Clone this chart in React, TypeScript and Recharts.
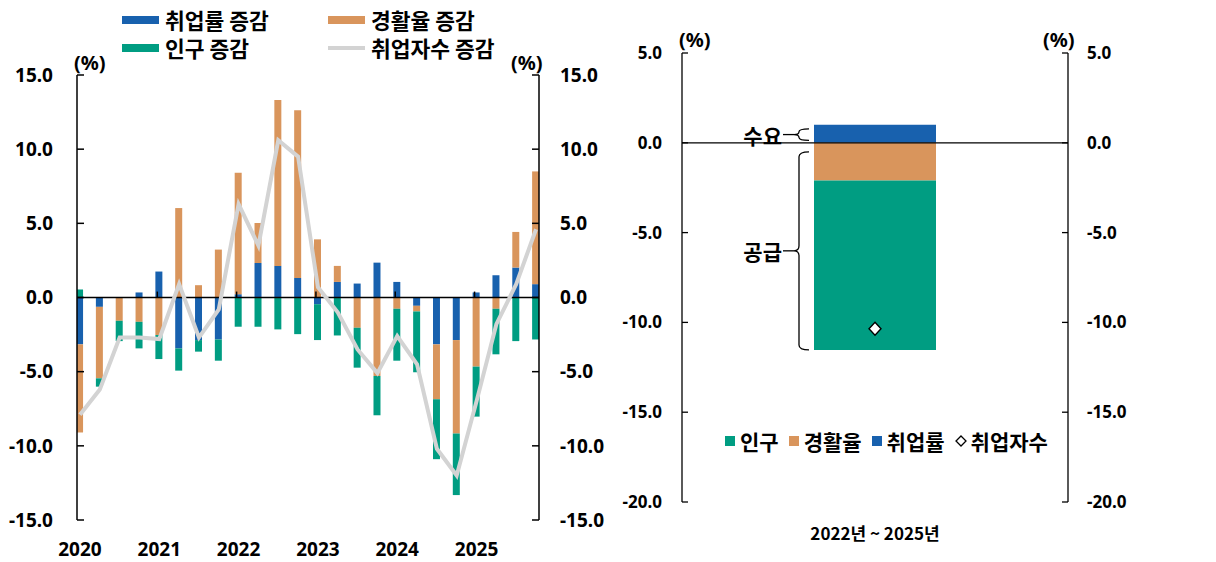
import React from 'react'
import {
  ComposedChart, Bar, Line, XAxis, YAxis, ReferenceLine, ReferenceArea,
} from 'recharts'

// left panel: quarterly contributions (%p), 2020Q1 ~ 2025Q4
const quarters = [
  '2020Q1', '2020Q2', '2020Q3', '2020Q4', '2021Q1', '2021Q2', '2021Q3', '2021Q4',
  '2022Q1', '2022Q2', '2022Q3', '2022Q4', '2023Q1', '2023Q2', '2023Q3', '2023Q4',
  '2024Q1', '2024Q2', '2024Q3', '2024Q4', '2025Q1', '2025Q2', '2025Q3', '2025Q4',
]
const yearLabels = ['2020', '2021', '2022', '2023', '2024', '2025']
const empRate = [
  -3.16, -0.63, 0, 0.34, 1.75, -3.43, -2.87, -2.83,
  0.22, 2.33, 2.13, 1.32, -0.45, 1.05, 0.94, 2.35,
  1.05, -0.56, -3.16, -2.87, 0.34, 1.5, 2.02, 0.9,
]
const partRate = [
  -5.94, -4.82, -1.57, -1.64, -2.53, 6.03, 0.83, 3.23,
  8.19, 2.69, 11.19, 11.3, 3.92, 1.08, -2.04, -5.29,
  -0.76, -0.38, -3.7, -6.3, -4.66, -0.76, 2.4, 7.6,
]
const popChange = [
  0.54, -0.56, -1.37, -1.79, -1.62, -1.5, -0.78, -1.43,
  -1.97, -1.97, -2.15, -2.47, -2.42, -2.56, -2.69, -2.65,
  -3.5, -4.1, -4.04, -4.15, -3.37, -3.07, -2.94, -2.83,
]
const employed = [
  -7.9, -6.2, -2.7, -2.7, -2.8, 0.9, -2.7, -0.8,
  6.3, 3.5, 10.6, 9.5, 0.7, -1.0, -3.5, -5.1,
  -2.6, -4.5, -10.2, -12.0, -7.0, -1.8, 0.9, 4.6,
]
const leftTicks = [-15, -10, -5, 0, 5, 10, 15]

// right panel: cumulative 2022~2025
const periods = ['2022년 ~ 2025년']
const cumEmpRate = [1.0]
const cumPartRate = [-2.1]
const cumPop = [-9.43]
const cumEmployed = [-10.35]
const rightTicks = [-20, -15, -10, -5, 0, 5]

const BLUE = '#1861ae'
const ORANGE = '#d9955c'
const GREEN = '#009d82'
const GRAY = '#d3d3d3'
const KR = "'Noto Sans CJK KR', 'Noto Sans', sans-serif"
const NUM = "'Noto Sans', 'DejaVu Sans', sans-serif"
const BAR_W = 122

const quarterData = quarters.map((q, i) => ({
  q, idx: i, emp: empRate[i], part: partRate[i], pop: popChange[i], total: employed[i],
}))
const yearTicks = yearLabels.map((_, i) => i * 4)

const periodData = periods.map((p, i) => ({
  period: p, emp: cumEmpRate[i], part: cumPartRate[i], pop: cumPop[i], total: cumEmployed[i],
}))

const fmt = (v: number) => v.toFixed(1)

const braceShape = (label: string, topInset: number, bottomInset: number) => (props: any) => {
  const { x, y, width, height } = props
  const barLeft = x + width / 2 - BAR_W / 2
  const top = y + topInset
  const bottom = y + height - bottomInset
  const mid = (top + bottom) / 2
  const bx = barLeft - 15
  const r = Math.min(5, (bottom - top) / 4)
  const d = `M ${barLeft - 5} ${top} Q ${bx} ${top} ${bx} ${top + r} L ${bx} ${mid - r} `
    + `Q ${bx} ${mid} ${bx - 5} ${mid} Q ${bx} ${mid} ${bx} ${mid + r} `
    + `L ${bx} ${bottom - r} Q ${bx} ${bottom} ${barLeft - 5} ${bottom}`
  return (
    <g>
      <path d={d} fill="none" stroke="#000" strokeWidth={1.3} />
      <line x1={bx - 5} y1={mid} x2={bx - 16} y2={mid} stroke="#000" strokeWidth={1.3} />
      <text x={bx - 17} y={mid} textAnchor="end" dominantBaseline="central"
        fontFamily={KR} fontWeight={700} fontSize={21} fill="#000">{label}</text>
    </g>
  )
}

const DiamondDot = (props: any) => {
  const { cx, cy, index } = props
  if (cx == null || cy == null) return <g key={index} />
  return (
    <path key={index} d={`M ${cx} ${cy - 6.5} L ${cx + 6} ${cy} L ${cx} ${cy + 6.5} L ${cx - 6} ${cy} Z`}
      fill="#fff" stroke="#000" strokeWidth={1.4} />
  )
}

const txt = (s: React.CSSProperties): React.CSSProperties => ({
  position: 'absolute', fontFamily: KR, fontWeight: 700, color: '#000', whiteSpace: 'nowrap', ...s,
})

function TopLegend() {
  const items = [
    { name: '취업률 증감', color: BLUE, h: 8 },
    { name: '경활율 증감', color: ORANGE, h: 8 },
    { name: '인구 증감', color: GREEN, h: 8 },
    { name: '취업자수 증감', color: GRAY, h: 4 },
  ]
  return (
    <div style={{ position: 'absolute', left: 122, top: 6, display: 'grid', gridTemplateColumns: '206px auto' }}>
      {items.map((it) => (
        <div key={it.name} style={{ display: 'flex', alignItems: 'center', height: 28 }}>
          <span style={{ display: 'inline-block', width: 37, height: it.h, background: it.color, marginRight: 6 }} />
          <span style={{ fontFamily: KR, fontWeight: 700, fontSize: 21.5, lineHeight: '22px' }}>{it.name}</span>
        </div>
      ))}
    </div>
  )
}

function SideLegend() {
  const items = [
    { name: '인구', color: GREEN },
    { name: '경활율', color: ORANGE },
    { name: '취업률', color: BLUE },
  ]
  return (
    <div style={{ position: 'absolute', left: 725, top: 428, display: 'flex', alignItems: 'center', height: 26 }}>
      {items.map((it) => (
        <div key={it.name} style={{ display: 'flex', alignItems: 'center', marginRight: 10 }}>
          <span style={{ display: 'inline-block', width: 10, height: 10, background: it.color, marginRight: 5 }} />
          <span style={{ fontFamily: KR, fontWeight: 700, fontSize: 21, lineHeight: '24px' }}>{it.name}</span>
        </div>
      ))}
      <div style={{ display: 'flex', alignItems: 'center' }}>
        <svg width={12} height={12} style={{ marginRight: 4 }}>
          <path d="M 6 1 L 11 6 L 6 11 L 1 6 Z" fill="#fff" stroke="#000" strokeWidth={1.3} />
        </svg>
        <span style={{ fontFamily: KR, fontWeight: 700, fontSize: 21, lineHeight: '24px' }}>취업자수</span>
      </div>
    </div>
  )
}

export default function App() {
  return (
    <div style={{ position: 'absolute', left: 0, top: 0, width: 1216, height: 562, background: '#fff', overflow: 'hidden' }}>
      <div style={{ position: 'absolute', left: 0, top: 0 }}>
        <ComposedChart width={620} height={562} data={quarterData} stackOffset="sign"
          margin={{ top: 75, right: 11, bottom: 12, left: 17 }}>
          <XAxis dataKey="idx" type="number" domain={[-0.15, 23.15]} allowDataOverflow
            ticks={yearTicks} tickFormatter={(v: number) => yearLabels[Math.round(v / 4)]}
            axisLine={false} tickLine={false} tickSize={0} tickMargin={23} height={30}
            tick={{ fill: '#000', fontSize: 19, fontWeight: 700, fontFamily: NUM }} />
          <YAxis yAxisId="left" orientation="left" domain={[-15, 15]} ticks={leftTicks}
            allowDataOverflow tickFormatter={fmt} width={60} tickSize={-7} tickMargin={31}
            axisLine={{ stroke: '#000', strokeWidth: 1.5 }} tickLine={{ stroke: '#000', strokeWidth: 1.5 }}
            tick={{ fill: '#000', fontSize: 19, fontWeight: 700, fontFamily: NUM }} />
          <YAxis yAxisId="right" orientation="right" domain={[-15, 15]} ticks={leftTicks}
            allowDataOverflow tickFormatter={fmt} width={70} tickSize={-7} tickMargin={28}
            axisLine={{ stroke: '#000', strokeWidth: 1.5 }} tickLine={{ stroke: '#000', strokeWidth: 1.5 }}
            tick={{ fill: '#000', fontSize: 19, fontWeight: 700, fontFamily: NUM }} />
          <Bar yAxisId="left" dataKey="emp" name="취업률 증감" stackId="a" fill={BLUE} barSize={7} isAnimationActive={false} />
          <Bar yAxisId="left" dataKey="part" name="경활율 증감" stackId="a" fill={ORANGE} barSize={7} isAnimationActive={false} />
          <Bar yAxisId="left" dataKey="pop" name="인구 증감" stackId="a" fill={GREEN} barSize={7} isAnimationActive={false} />
          <ReferenceLine yAxisId="left" y={0} stroke="#000" strokeWidth={1.5} />
          {yearTicks.slice(1).map((t) => (
            <ReferenceLine key={t} yAxisId="left" segment={[{ x: t - 0.1, y: 0 }, { x: t - 0.1, y: 0.4 }]}
              stroke="#000" strokeWidth={1.5} />
          ))}
          <Line yAxisId="right" type="linear" dataKey="total" name="취업자수 증감" stroke={GRAY}
            strokeWidth={4} dot={false} activeDot={false} isAnimationActive={false} />
        </ComposedChart>
      </div>

      <div style={{ position: 'absolute', left: 600, top: 0 }}>
        <ComposedChart width={616} height={562} data={periodData} stackOffset="sign"
          margin={{ top: 53, right: 78, bottom: 20, left: 12 }}>
          <XAxis dataKey="period" axisLine={false} tickLine={false} tickSize={0} tickMargin={26} height={40}
            tick={{ fill: '#000', fontSize: 17, fontWeight: 700, fontFamily: KR }} />
          <YAxis yAxisId="left" orientation="left" domain={[-20, 5]} ticks={rightTicks}
            allowDataOverflow tickFormatter={fmt} width={70} tickSize={-6} tickMargin={26}
            axisLine={{ stroke: '#000', strokeWidth: 1.3 }} tickLine={{ stroke: '#000', strokeWidth: 1.3 }}
            tick={{ fill: '#000', fontSize: 17, fontWeight: 700, fontFamily: NUM }} />
          <YAxis yAxisId="right" orientation="right" domain={[-20, 5]} ticks={rightTicks}
            allowDataOverflow tickFormatter={fmt} width={70} tickSize={-6} tickMargin={25}
            axisLine={{ stroke: '#000', strokeWidth: 1.3 }} tickLine={{ stroke: '#000', strokeWidth: 1.3 }}
            tick={{ fill: '#000', fontSize: 17, fontWeight: 700, fontFamily: NUM }} />
          <Bar yAxisId="left" dataKey="emp" name="취업률" stackId="a" fill={BLUE} barSize={BAR_W} isAnimationActive={false} />
          <Bar yAxisId="left" dataKey="part" name="경활율" stackId="a" fill={ORANGE} barSize={BAR_W} isAnimationActive={false} />
          <Bar yAxisId="left" dataKey="pop" name="인구" stackId="a" fill={GREEN} barSize={BAR_W} isAnimationActive={false} />
          <ReferenceLine yAxisId="left" y={0} stroke="#000" strokeWidth={1.3} />
          <ReferenceArea yAxisId="left" y1={0} y2={cumEmpRate[0]} ifOverflow="visible"
            shape={braceShape('수요', 4, 2.5)} />
          <ReferenceArea yAxisId="left" y1={0} y2={cumPartRate[0] + cumPop[0]} ifOverflow="visible"
            shape={braceShape('공급', 9, 0)} />
          <Line yAxisId="right" dataKey="total" name="취업자수" stroke="none" dot={DiamondDot}
            activeDot={false} isAnimationActive={false} />
        </ComposedChart>
      </div>

      <TopLegend />
      <SideLegend />
      <div style={txt({ left: 74, top: 49, fontSize: 20, fontFamily: NUM })}>(%)</div>
      <div style={txt({ left: 511, top: 49, fontSize: 20, fontFamily: NUM })}>(%)</div>
      <div style={txt({ left: 679, top: 26, fontSize: 20, fontFamily: NUM })}>(%)</div>
      <div style={txt({ left: 1043, top: 26, fontSize: 20, fontFamily: NUM })}>(%)</div>
    </div>
  )
}
